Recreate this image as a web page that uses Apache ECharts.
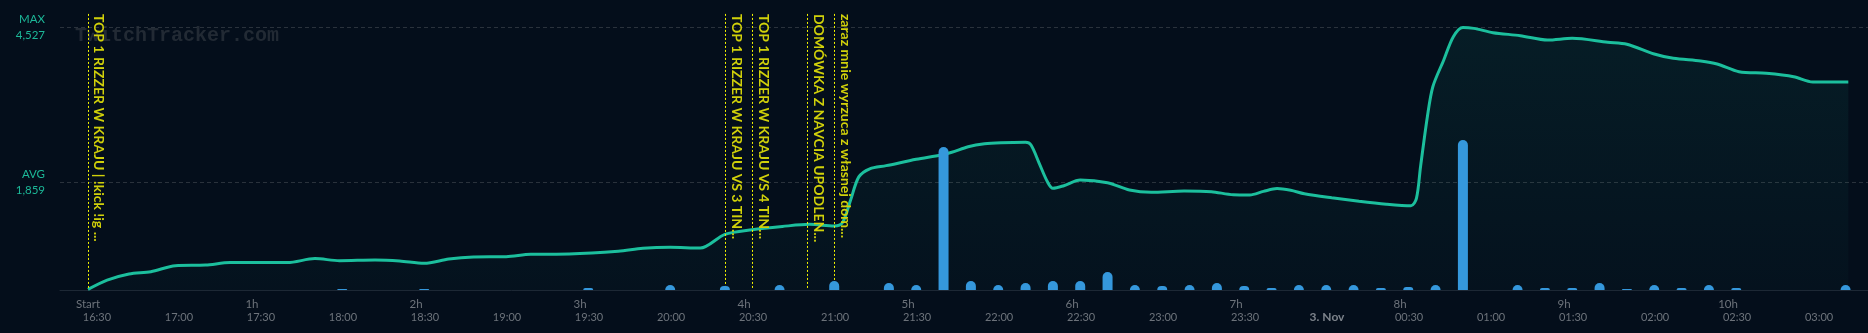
<!DOCTYPE html>
<html>
<head>
<meta charset="utf-8">
<script src="https://cdn.jsdelivr.net/npm/echarts@6/dist/echarts.min.js"></script>
<style>
html,body{margin:0;padding:0;background:#040e1b;}
#chart{width:1868px;height:333px;}
</style>
</head>
<body>
<div id="chart"></div>
<script>
// minutes since stream start (16:30)
const viewerMinutes = [0,7,15,23,32,43,52,73,83,92,105,114,123,132,141,153,162,176,194,203,213,224,233,243,254,264,273,276,279,282,286,292,303,312,316,322,328,334,343,345,348,351,353,357,363,373,381,389,401,411,419,425,430,435,440,445,455,465,475,484,486,487.5,490,492,496,499.5,503,507,514,524,534,543,556,563,573,580,590,596,604,614,624,631,644];
const viewerValues  = [10,170,276,316,420,431,472,472,541,506,517,500,460,534,569,575,615,620,667,718,736,724,960,1040,1095,1132,1105,1160,1550,1950,2090,2144,2253,2328,2374,2471,2523,2540,2546,2500,2184,1867,1753,1798,1897,1850,1724,1684,1707,1695,1643,1640,1700,1750,1720,1660,1590,1530,1480,1453,1580,2126,2988,3505,3966,4368,4527,4511,4437,4385,4310,4339,4270,4236,4069,3994,3948,3897,3764,3736,3678,3586,3586];

const barMinutes = [3,13,23,33,43,53,63,73,83,93,103,113,123,133,143,153,163,173,183,193,203,213,223,233,243,253,263,273,283,293,303,313,323,333,343,353,363,373,383,393,403,413,423,433,443,453,463,473,483,493,503,513,523,533,543,553,563,573,583,593,603,613,623,633,643];
const barValues  = [0,0,0,0,0,0,0,0,0,1,0,0,1,0,0,0,0,0,2,0,0,5,0,4,0,5,0,9,0,7,5,143,9,5,7,9,9,18,5,4,5,7,4,2,5,5,5,2,3,5,150,0,5,2,2,7,1,5,2,5,2,0,0,0,5];

const tickMinutes = [0,30,60,90,120,150,180,210,240,270,300,330,360,390,420,450,480,510,540,570,600,630];
const tickTimes = ['16:30','17:00','17:30','18:00','18:30','19:00','19:30','20:00','20:30','21:00','21:30','22:00','22:30','23:00','23:30','3. Nov','00:30','01:00','01:30','02:00','02:30','03:00'];
const tickHours = ['Start','','1h','','2h','','3h','','4h','','5h','','6h','','7h','','8h','','9h','','10h',''];

const maxViewers = 4527;
const avgViewers = 1859;

const annotationMinutes = [0, 233.3, 243, 263.2, 273];
const annotationTexts = [
  'TOP 1 RIZZER W KRAJU | !kick !ig ...',
  'TOP 1 RIZZER W KRAJU VS 3 TIN...',
  'TOP 1 RIZZER W KRAJU VS 4 TIN...',
  'DOMÓWKA Z NAVCIA UPODLEN...',
  'zaraz mnie wyrzuca z własnej dom...'
];

const chart = echarts.init(document.getElementById('chart'));
const fmt = n => n.toLocaleString('en-US');
const annotTop = 4760;

chart.setOption({
  backgroundColor: '#040e1b',
  animation: false,
  graphic: [{
    type: 'text', left: 75, top: 26, z: 0,
    style: { text: 'TwitchTracker.com', font: 'bold 20px "Liberation Mono", monospace', fill: '#222a34' }
  }],
  grid: { left: 60, right: 0, top: 0, bottom: 43 },
  xAxis: {
    type: 'value', min: -10.24, max: 651.2,
    splitLine: { show: false },
    axisTick: { show: false },
    axisLine: { show: true, lineStyle: { color: '#1d2835', width: 1 } },
    axisLabel: {
      customValues: tickMinutes,
      margin: 8,
      formatter: function (v) {
        const i = tickMinutes.indexOf(v);
        if (i < 0) return '';
        const top = tickHours[i] || ' ';
        const bot = tickTimes[i];
        const botStyle = bot.indexOf('Nov') >= 0 ? 'd' : 't';
        return '{h|' + top + '}\n{' + botStyle + '|' + bot + '}';
      },
      rich: {
        h: { fontFamily: 'Lato', fontSize: 11.5, color: '#6d737b', lineHeight: 13 },
        t: { fontFamily: 'Lato', fontSize: 11, color: '#6d737b', lineHeight: 13, padding: [0, 0, 0, 18] },
        d: { fontFamily: 'Lato', fontSize: 12, fontWeight: 'bold', color: '#7d838b', lineHeight: 13, padding: [0, 0, 0, 18] }
      }
    }
  },
  yAxis: [
    { type: 'value', min: 0, max: 5000, show: false, splitLine: { show: false } },
    { type: 'value', min: 0, max: 290, show: false, splitLine: { show: false } }
  ],
  series: [
    {
      name: 'Viewers', type: 'line', yAxisIndex: 0, z: 3,
      data: viewerMinutes.map((m, i) => [m, viewerValues[i]]),
      showSymbol: false, symbol: 'none',
      smooth: 0.3,
      lineStyle: { color: '#1cbf9d', width: 3 },
      areaStyle: {
        color: new echarts.graphic.LinearGradient(0, 0, 0, 1, [
          { offset: 0, color: 'rgba(28,191,157,0.12)' },
          { offset: 1, color: 'rgba(28,191,157,0.03)' }
        ])
      },
      markLine: {
        silent: true, symbol: 'none', z: 1,
        lineStyle: { color: '#2a323c', width: 1, type: [4, 3] },
        label: {
          position: 'start', distance: 15,
          color: '#1cb898', fontFamily: 'Lato', fontSize: 11.5, lineHeight: 16, align: 'right'
        },
        data: [
          { yAxis: maxViewers, label: { formatter: 'MAX\n' + fmt(maxViewers) } },
          { yAxis: avgViewers, label: { formatter: 'AVG\n' + fmt(avgViewers) } }
        ]
      }
    },
    {
      name: 'Annotations', type: 'line', yAxisIndex: 0, data: [], z: 4,
      markLine: {
        silent: true, symbol: 'none',
        lineStyle: { color: '#f2f200', width: 1, type: [2, 2] },
        label: {
          position: 'insideStartTop', distance: [0, 4],
          color: '#d0d00a', fontFamily: 'Lato', fontWeight: 'bold', fontSize: 14
        },
        data: annotationMinutes.map((m, i) => [
          { coord: [m, annotTop], name: annotationTexts[i] },
          { coord: [m, 0] }
        ])
      }
    },
    {
      name: 'Activity', type: 'bar', yAxisIndex: 1, z: 5,
      data: barMinutes.map((m, i) => [m, barValues[i]]),
      barWidth: 10,
      itemStyle: { color: '#3598dc', borderRadius: [5, 5, 0, 0] }
    }
  ]
});
</script>
</body>
</html>
